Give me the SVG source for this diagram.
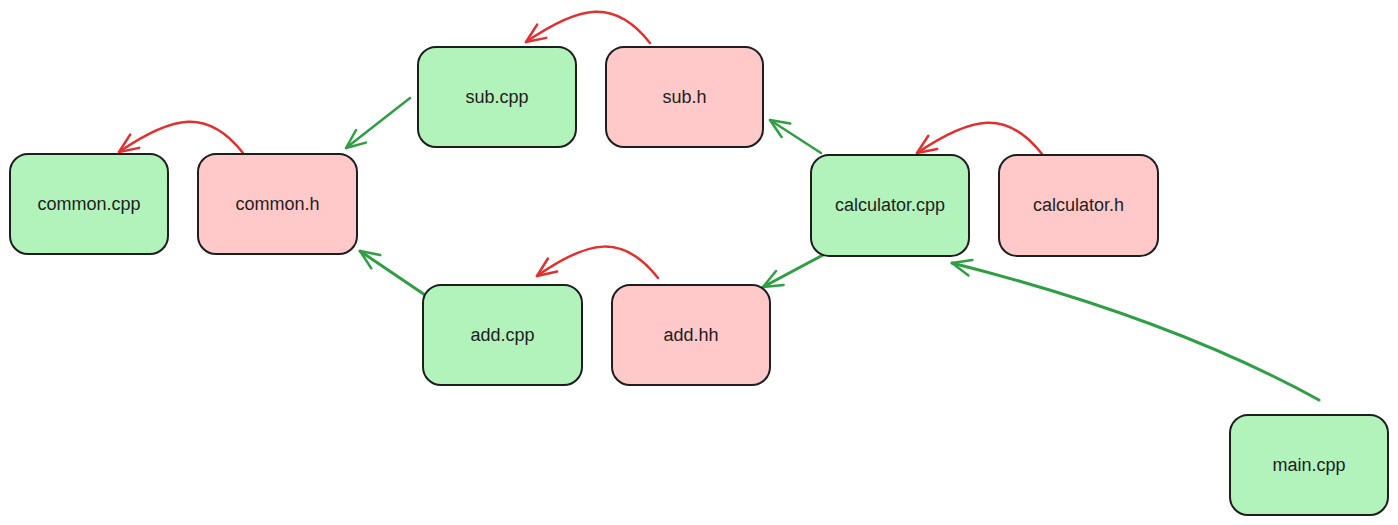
<svg xmlns="http://www.w3.org/2000/svg" width="1398" height="525" viewBox="0 0 1398 525">
<style>
.node rect{stroke:#1e1e1e;stroke-width:2;}
.src rect{fill:#b2f2bb;}
.hdr rect{fill:#ffc9c9;}
.node text{font-family:"Liberation Sans","Noto Sans",sans-serif;font-size:18px;fill:#1e1e1e;text-anchor:middle;}
.red{fill:none;stroke:#e03131;stroke-width:2.5;stroke-linecap:round;marker-end:url(#ahRed);}
.green{fill:none;stroke:#2f9e44;stroke-width:2.5;stroke-linecap:round;marker-end:url(#ahGreen);}
.thick{stroke-width:3;}
</style>
<defs>
<marker id="ahRed" markerUnits="userSpaceOnUse" markerWidth="40" markerHeight="40" refX="0" refY="0" viewBox="-20 -20 40 40" orient="auto" overflow="visible">
<path d="M-19,-8 L0,0 L-19,8" fill="none" stroke="#e03131" stroke-width="2.5" stroke-linecap="round" stroke-linejoin="round"/>
</marker>
<marker id="ahGreen" markerUnits="userSpaceOnUse" markerWidth="40" markerHeight="40" refX="0" refY="0" viewBox="-20 -20 40 40" orient="auto" overflow="visible">
<path d="M-19,-8 L0,0 L-19,8" fill="none" stroke="#2f9e44" stroke-width="2.5" stroke-linecap="round" stroke-linejoin="round"/>
</marker>
</defs>
<rect width="1398" height="525" fill="#ffffff"/>
<g id="connectors">
<path class="red" d="M650,43 C615,-2 580,5 526,42"/>
<path class="red" d="M243,153 C208,108 173,115 119,152"/>
<path class="red" d="M1042,154 C1007,109 972,116 917,153"/>
<path class="red" d="M658,278 C623,233 588,240 537,276"/>
<path class="green" d="M410,98 L346,148"/>
<path class="green" d="M821,153 L770,120"/>
<path class="green thick" d="M823,255 L763,287"/>
<path class="green thick" d="M425,295 L360,251"/>
<path class="green thick" d="M1319,400 Q1170,318 952,263"/>
</g>
<g id="common_cpp" class="node src"><rect x="10" y="154" width="158" height="100" rx="18"/><text x="89" y="210">common.cpp</text></g>
<g id="common_h" class="node hdr"><rect x="198" y="154" width="159" height="100" rx="18"/><text x="277.5" y="210">common.h</text></g>
<g id="sub_cpp" class="node src"><rect x="418" y="47" width="158" height="100" rx="18"/><text x="497" y="103">sub.cpp</text></g>
<g id="sub_h" class="node hdr"><rect x="606" y="47" width="157" height="100" rx="18"/><text x="684.5" y="103">sub.h</text></g>
<g id="calculator_cpp" class="node src"><rect x="811" y="155" width="158" height="101" rx="18"/><text x="890" y="211">calculator.cpp</text></g>
<g id="calculator_h" class="node hdr"><rect x="999" y="155" width="159" height="101" rx="18"/><text x="1078.5" y="211">calculator.h</text></g>
<g id="add_cpp" class="node src"><rect x="423" y="285" width="159" height="100" rx="18"/><text x="502.5" y="341">add.cpp</text></g>
<g id="add_hh" class="node hdr"><rect x="612" y="285" width="158" height="100" rx="18"/><text x="691" y="341">add.hh</text></g>
<g id="main_cpp" class="node src"><rect x="1230" y="415" width="158" height="100" rx="18"/><text x="1309" y="471">main.cpp</text></g>
</svg>
